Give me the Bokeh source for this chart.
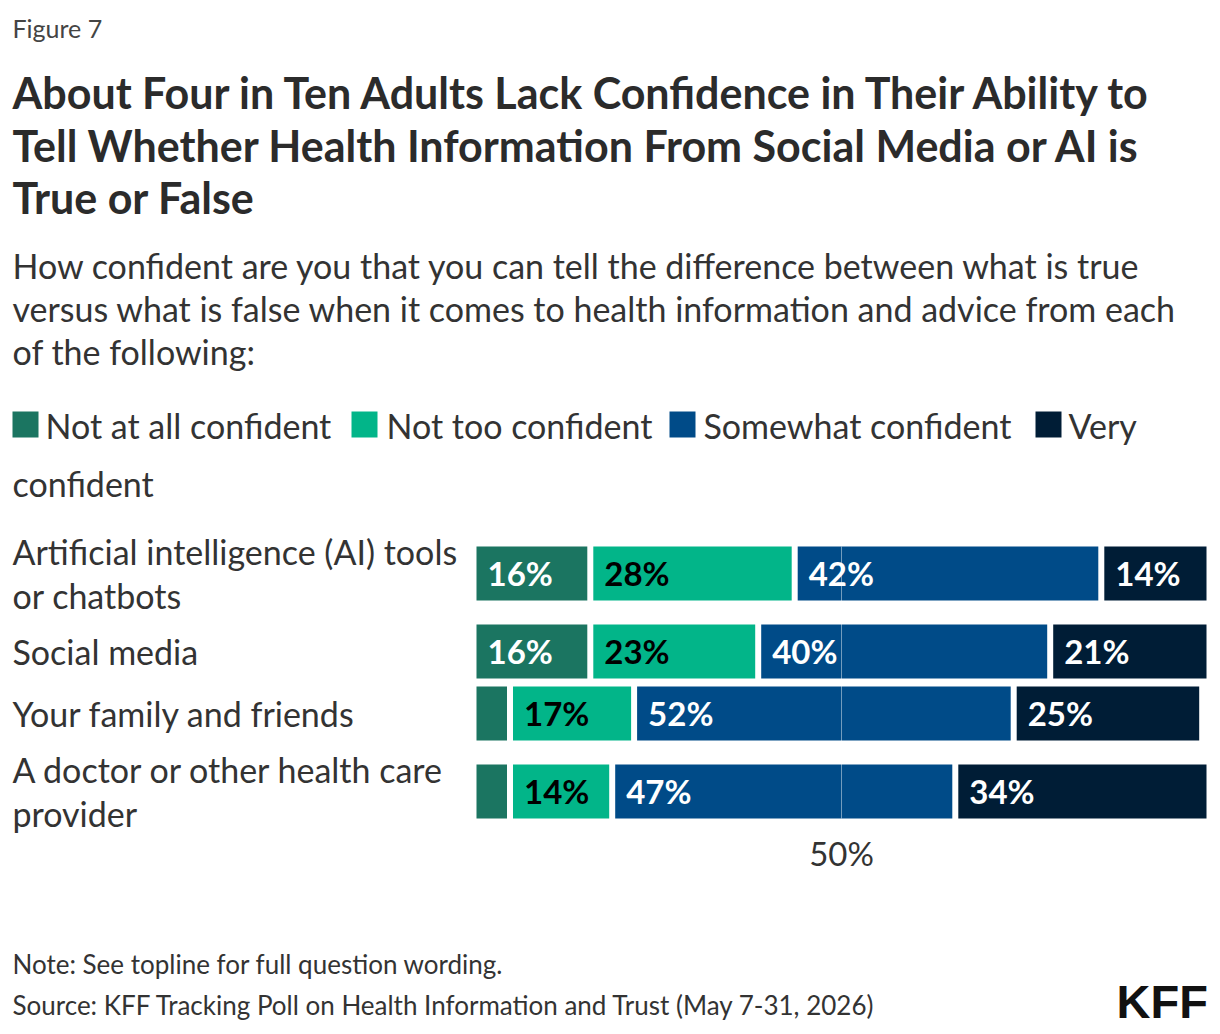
from bokeh.plotting import figure
from bokeh.models import Range1d, ColumnDataSource
from bokeh.core.properties import value
from bokeh.embed import file_html
from bokeh.resources import INLINE

# ---------------- data ----------------
category_lines = [
    ["Artificial intelligence (AI) tools", "or chatbots"],
    ["Social media"],
    ["Your family and friends"],
    ["A doctor or other health care", "provider"],
]
series_names = ["Not at all confident", "Not too confident", "Somewhat confident", "Very confident"]
not_at_all = [16, 16, 5, 5]
not_too = [28, 23, 17, 14]
somewhat = [42, 40, 52, 47]
very = [14, 21, 25, 34]
x_ticks = [50]
x_tick_labels = ["50%"]

# ---------------- style / layout ----------------
colors = ["#1b7561", "#02b589", "#004b88", "#001d36"]
label_colors = ["white", "black", "white", "white"]
FONT = "Lato"
TXT = "#333333"
W, H = 1220, 1034
bar_left_px, bar_right_px, rows_top_px = 476, 1206, 526
ppu = (bar_right_px - bar_left_px) / 100.0     # pixels per percentage point
gap = 6 / ppu


def px(xp):
    """canvas pixel -> x data units"""
    return (xp - bar_left_px) / ppu


row_h = [30 + 32 * len(l) for l in category_lines]
centers = []
acc = rows_top_px
for h in row_h:
    centers.append(acc + h / 2)
    acc += h

p = figure(width=W, height=H, x_range=Range1d(px(0), px(W)), y_range=Range1d(H, 0),
           output_backend="svg", toolbar_location=None, title=None, min_border=0)
p.outline_line_color = None
p.background_fill_color = "white"
p.border_fill_color = "white"
p.axis.visible = False
p.grid.visible = False

series = [not_at_all, not_too, somewhat, very]
L, R, Y, C, T, TC = [], [], [], [], [], []
for i, yc in enumerate(centers):
    start = 0
    for s, vals in enumerate(series):
        v = vals[i]
        end = start + v
        L.append(start)
        R.append(end - gap if s < len(series) - 1 else end)
        Y.append(yc)
        C.append(colors[s])
        T.append(f"{v}%" if v >= 10 else "")
        TC.append(label_colors[s])
        start = end

BAR_H = 54
src = ColumnDataSource(dict(left=L, right=R, y=Y, color=C, text=T, tcolor=TC))
p.hbar(y="y", left="left", right="right", height=BAR_H, color="color", line_color=None, source=src)

# 50% gridline drawn over the bars
p.segment(x0=x_ticks, x1=x_ticks, y0=[centers[0] - BAR_H / 2] * len(x_ticks),
          y1=[centers[-1] + BAR_H / 2] * len(x_ticks),
          line_color="white", line_alpha=0.45, line_width=1)

p.text(x="left", y="y", text="text", source=src, x_offset=11, y_offset=-1,
       text_align="left", text_baseline="middle", text_color="tcolor",
       text_font=value(FONT), text_font_style="bold", text_font_size="33px")

# x tick label
p.text(x=x_ticks, y=[852] * len(x_ticks), text=x_tick_labels, text_align="center",
       text_baseline="middle", text_color=TXT, text_font=value(FONT), text_font_size="33px")


def label(xp, yp, text, size, style="normal", color=TXT, font=FONT, align="left"):
    p.text(x=[px(xp)], y=[yp], text=[text], text_font=value(font), text_font_size=size,
           text_font_style=style, text_color=color, text_align=align, text_baseline="middle")


# row labels
for yc, lines in zip(centers, category_lines):
    n = len(lines)
    for k, line in enumerate(lines):
        label(12, yc + (k - (n - 1) / 2) * 44, line, "34px")

label(12, 27, "Figure 7", "25px", color="#444444")
title_lines = ["About Four in Ten Adults Lack Confidence in Their Ability to",
               "Tell Whether Health Information From Social Media or AI is",
               "True or False"]
for k, t in enumerate(title_lines):
    label(12, 92 + k * 52.5, t, "43px", style="bold", color="#2b2b2b")
sub_lines = ["How confident are you that you can tell the difference between what is true",
             "versus what is false when it comes to health information and advice from each",
             "of the following:"]
for k, t in enumerate(sub_lines):
    label(12, 265 + k * 43, t, "34px")

# legend (wraps like the original)
sq_x = [12, 351, 669, 1035]
tx_x = [45, 386, 703, 1068]
leg_text = ["Not at all confident", "Not too confident", "Somewhat confident", "Very"]
p.rect(x=[px(x + 13) for x in sq_x], y=[424] * 4, width=26 / ppu, height=26,
       color=colors, line_color=None)
for s in range(4):
    label(tx_x[s], 425, leg_text[s], "34px")
label(12, 483, "confident", "34px")

label(12, 963, "Note: See topline for full question wording.", "26px")
label(12, 1004, "Source: KFF Tracking Poll on Health Information and Trust (May 7-31, 2026)", "26px")
label(1116, 1001, "KFF", "47px", style="bold", color="#111111", font="Liberation Sans")

open("out.html", "w").write(file_html(p, INLINE))
